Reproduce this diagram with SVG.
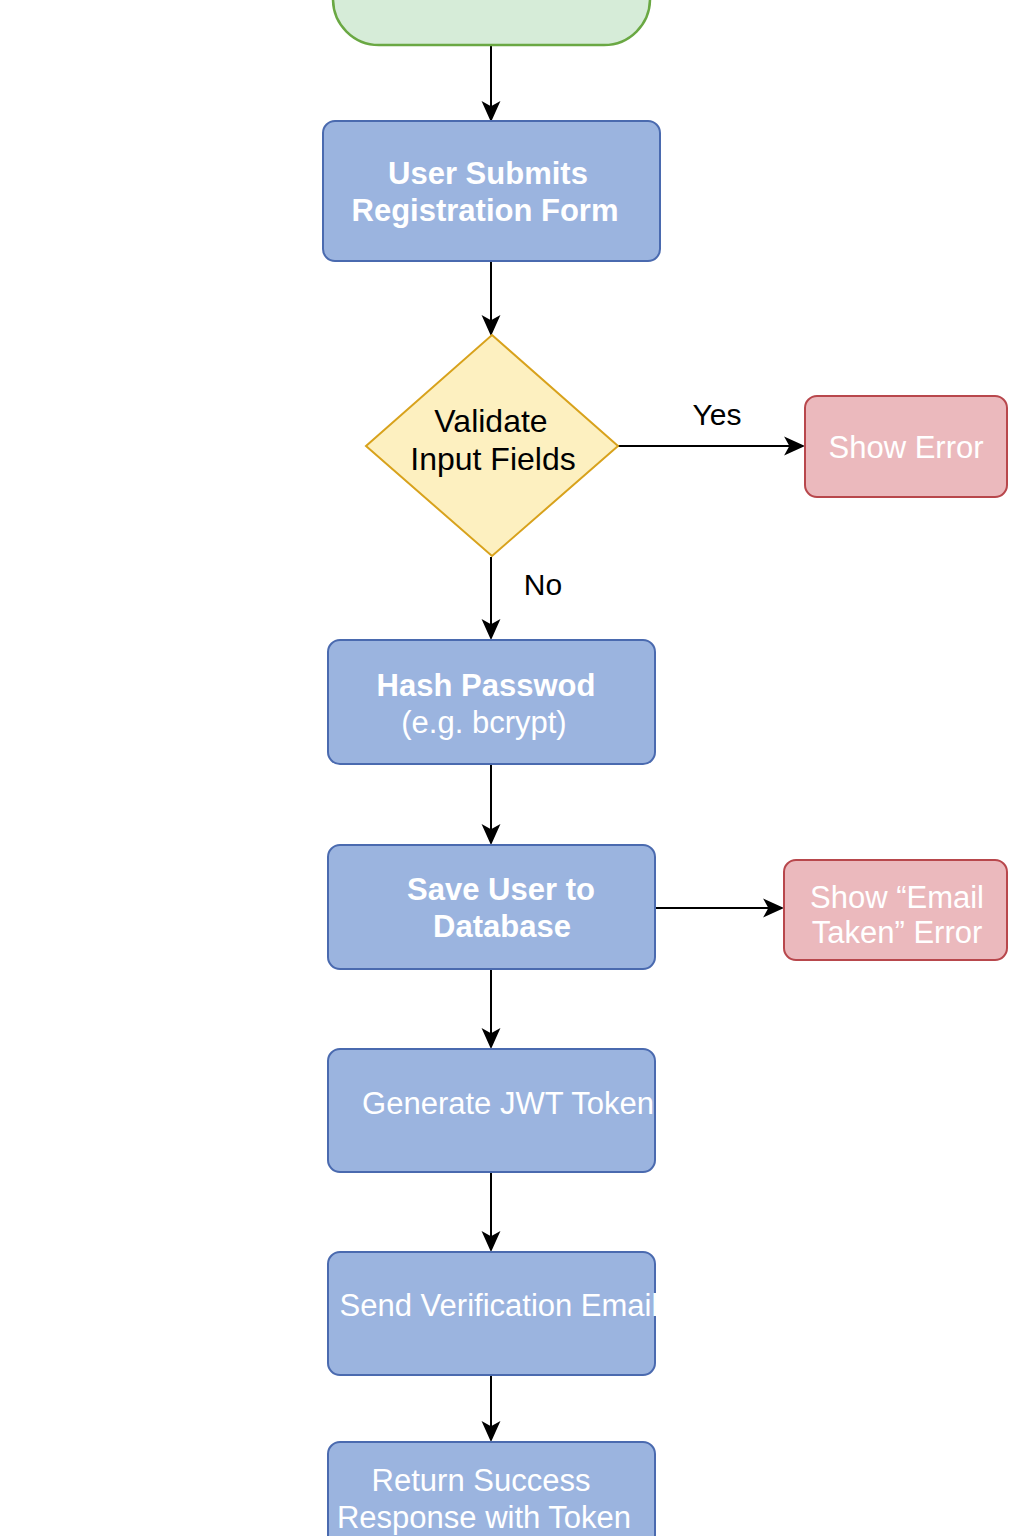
<svg xmlns="http://www.w3.org/2000/svg" width="1024" height="1536" viewBox="0 0 1024 1536">
  <style>
    .proc { fill: #9bb4df; stroke: #4a6aaf; stroke-width: 2; }
    .err { fill: #ebb9bd; stroke: #b8474c; stroke-width: 2; }
    .start { fill: #d6ecd8; stroke: #6aa843; stroke-width: 2.5; }
    .decision { fill: #fdf0c0; stroke: #d8a21c; stroke-width: 2; }
    .wt { fill: #ffffff; font-family: "Liberation Sans", Arial, sans-serif; font-size: 31px; text-anchor: middle; }
    .b { font-weight: bold; }
    .bt { fill: #000000; font-family: "Liberation Sans", Arial, sans-serif; font-size: 32px; text-anchor: middle; }
    .lbl { font-size: 30px; }
    .edge { stroke: #000000; stroke-width: 2; fill: none; marker-end: url(#arrow); }
  </style>
  <defs>
    <marker id="arrow" viewBox="0 0 20 20" refX="18" refY="10" markerWidth="21" markerHeight="21" markerUnits="userSpaceOnUse" orient="auto">
      <path d="M0,1 L20,10 L0,19 L5,10 Z" fill="#000000"/>
    </marker>
  </defs>
  <rect width="1024" height="1536" fill="#ffffff"/>

  <!-- connectors -->
  <g id="connectors">
    <line class="edge" x1="491" y1="45" x2="491" y2="120"/>
    <line class="edge" x1="491" y1="262" x2="491" y2="334"/>
    <line class="edge" x1="618" y1="446" x2="803" y2="446"/>
    <line class="edge" x1="491" y1="557" x2="491" y2="638"/>
    <line class="edge" x1="491" y1="765" x2="491" y2="843"/>
    <line class="edge" x1="656" y1="908" x2="782" y2="908"/>
    <line class="edge" x1="491" y1="970" x2="491" y2="1047"/>
    <line class="edge" x1="491" y1="1173" x2="491" y2="1250"/>
    <line class="edge" x1="491" y1="1376" x2="491" y2="1440"/>
    <text class="bt lbl" x="717" y="425">Yes</text>
    <text class="bt lbl" x="543" y="595">No</text>
  </g>

  <g id="start">
    <rect class="start" x="333" y="-60" width="317" height="105" rx="46"/>
  </g>

  <g id="submit-form">
    <rect class="proc" x="323" y="121" width="337" height="140" rx="12"/>
    <text class="wt b" x="488" y="184">User Submits</text>
    <text class="wt b" x="485" y="221">Registration Form</text>
  </g>

  <g id="validate">
    <polygon class="decision" points="492,335 618,446 492,556 366,446"/>
    <text class="bt" x="491" y="432">Validate</text>
    <text class="bt" x="493" y="470">Input Fields</text>
  </g>

  <g id="show-error">
    <rect class="err" x="805" y="396" width="202" height="101" rx="12"/>
    <text class="wt" x="906" y="458">Show Error</text>
  </g>

  <g id="hash-password">
    <rect class="proc" x="328" y="640" width="327" height="124" rx="12"/>
    <text class="wt b" x="486" y="696">Hash Passwod</text>
    <text class="wt" x="484" y="733">(e.g. bcrypt)</text>
  </g>

  <g id="save-user">
    <rect class="proc" x="328" y="845" width="327" height="124" rx="12"/>
    <text class="wt b" x="501" y="900">Save User to</text>
    <text class="wt b" x="502" y="937">Database</text>
  </g>

  <g id="email-taken">
    <rect class="err" x="784" y="860" width="223" height="100" rx="12"/>
    <text class="wt" x="897" y="908">Show “Email</text>
    <text class="wt" x="897" y="943">Taken” Error</text>
  </g>

  <g id="generate-jwt">
    <rect class="proc" x="328" y="1049" width="327" height="123" rx="12"/>
    <text class="wt" x="508" y="1114">Generate JWT Token</text>
  </g>

  <g id="send-email">
    <rect class="proc" x="328" y="1252" width="327" height="123" rx="12"/>
    <text class="wt" x="499" y="1316">Send Verification Email</text>
  </g>

  <g id="return-success">
    <rect class="proc" x="328" y="1442" width="327" height="140" rx="12"/>
    <text class="wt" x="481" y="1491">Return Success</text>
    <text class="wt" x="484" y="1528">Response with Token</text>
  </g>
</svg>
